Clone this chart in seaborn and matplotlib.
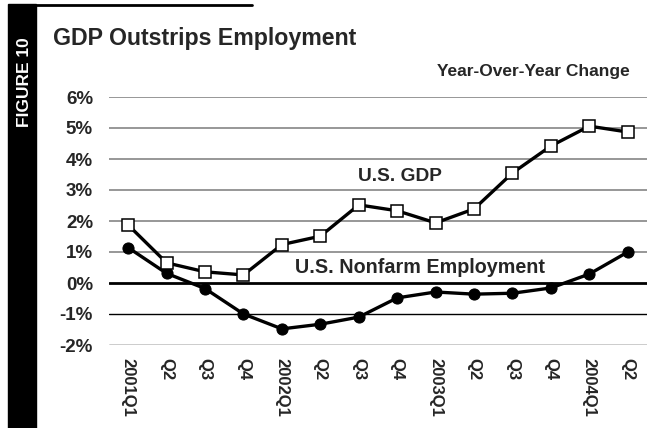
import numpy as np
import pandas as pd
import matplotlib
matplotlib.use('Agg')
import matplotlib.pyplot as plt
import seaborn as sns

# ---- data ----
quarters = ['2001Q1', 'Q2', 'Q3', 'Q4', '2002Q1', 'Q2 ', 'Q3 ', 'Q4 ',
            '2003Q1', 'Q2  ', 'Q3  ', 'Q4  ', '2004Q1', 'Q2   ']
gdp = [1.87, 0.65, 0.36, 0.26, 1.24, 1.51, 2.52, 2.33,
       1.94, 2.39, 3.55, 4.42, 5.06, 4.87]
employment = [1.14, 0.31, -0.18, -1.0, -1.48, -1.33, -1.1, -0.48,
              -0.29, -0.36, -0.33, -0.16, 0.29, 1.0]
yticks = [-2, -1, 0, 1, 2, 3, 4, 5, 6]

df = pd.DataFrame({'quarter': quarters, 'gdp': gdp, 'emp': employment})

sns.set_style('white')
plt.rcParams['font.family'] = ['Liberation Sans', 'DejaVu Sans']
plt.rcParams['font.weight'] = 'bold'

fig = plt.figure(figsize=(6.55, 4.28), dpi=100)
ax = fig.add_axes([109 / 655, 1 - 345 / 428, 538 / 655, 248 / 428])

# gridlines: grey above zero, black at/below zero
for t in yticks:
    if t > 0:
        ax.axhline(t, color='#7a7a7a', lw=1.1, zorder=1)
    elif t == 0:
        ax.axhline(t, color='black', lw=2.0, zorder=1)
    else:
        ax.axhline(t, color='black', lw=1.0, zorder=1)

sns.lineplot(data=df, x='quarter', y='emp', sort=False, ax=ax, color='black',
             lw=2.4, marker='o', markersize=8, markerfacecolor='black',
             markeredgecolor='black', zorder=3, clip_on=False)
sns.lineplot(data=df, x='quarter', y='gdp', sort=False, ax=ax, color='black',
             lw=2.4, marker='s', markersize=9, markerfacecolor='white',
             markeredgecolor='black', markeredgewidth=1.1, zorder=4, clip_on=False)

ax.set_xlim(-0.5, len(quarters) - 0.5)
ax.set_ylim(-2, 6)
ax.set_yticks(yticks)
ax.set_yticklabels([f'{t}%' for t in yticks], fontsize=13.5, fontweight='bold')
ax.set_xticks(range(len(quarters)))
ax.set_xticklabels([q.strip() for q in quarters], rotation=-90, fontsize=12,
                   fontweight='bold', va='top', ha='center')
ax.tick_params(axis='y', length=0, pad=11.5)
ax.tick_params(axis='x', length=0, pad=9.5)
ax.set_xlabel('')
ax.set_ylabel('')
for s in ax.spines.values():
    s.set_visible(False)

ax.text(7.08, 3.42, 'U.S. GDP', fontsize=13.8, fontweight='bold',
        ha='center', va='center')
ax.text(7.58, 0.5, 'U.S. Nonfarm Employment', fontsize=14.2, fontweight='bold',
        ha='center', va='center')

# titles and decorations
fig.text(53 / 655, 1 - 45 / 428, 'GDP Outstrips Employment', fontsize=16.7,
         fontweight='bold', ha='left', va='baseline')
fig.text(630 / 655, 1 - 76 / 428, 'Year-Over-Year Change', fontsize=12.5,
         fontweight='bold', ha='right', va='baseline')

fig.patches.append(plt.Rectangle((8 / 655, 0), 28 / 655, 1 - 4 / 428,
                                 transform=fig.transFigure, color='black'))
fig.lines.append(plt.Line2D([36 / 655, 252 / 655], [1 - 5 / 428, 1 - 5 / 428],
                            transform=fig.transFigure, color='black', lw=2))
fig.text(25 / 655, 1 - 82 / 428, 'FIGURE 10', rotation=90, color='white',
         fontsize=12.5, fontweight='bold', ha='center', va='center')

fig.savefig('out.png', dpi=100)
